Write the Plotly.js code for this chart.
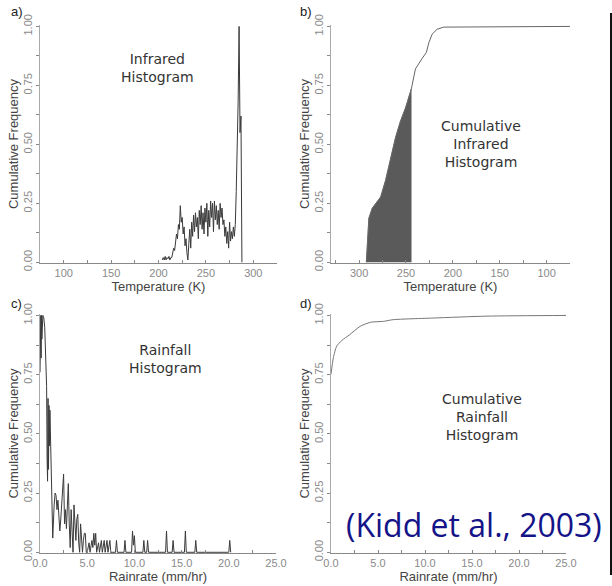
<!DOCTYPE html>
<html>
<head>
<meta charset="utf-8">
<script src="https://cdn.plot.ly/plotly-3.0.1.min.js"></script>
<style>html,body{margin:0;padding:0;background:#fff;}#chart{width:612px;height:586px;}</style>
</head>
<body>
<div id="chart"></div>
<script>
// ---- Panel a: infrared histogram ----
const irTemp = [204,205,206,207,208,209,210,211,212,213,214,215,216,217,218,219,220,221,222,223,224,225,226,227,228,229,230,231,232,233,234,235,236,237,238,239,240,241,242,243,244,245,246,247,248,249,250,251,252,253,254,255,256,257,258,259,260,261,262,263,264,265,266,267,268,269,270,271,272,273,274,275,276,277,278,279,280,281,282,283,284,285,286,287,288];
const irFreq = [0.01,0.02,0.01,0.025,0.01,0.02,0.015,0.025,0.01,0.02,0.02,0.04,0.06,0.05,0.09,0.12,0.10,0.16,0.14,0.24,0.17,0.19,0.12,0.15,0.07,0.10,0.04,0.01,0.08,0.14,0.06,0.17,0.11,0.20,0.13,0.21,0.15,0.19,0.10,0.22,0.16,0.24,0.14,0.21,0.12,0.23,0.17,0.25,0.11,0.22,0.15,0.26,0.19,0.25,0.13,0.26,0.18,0.24,0.16,0.22,0.14,0.25,0.19,0.23,0.16,0.18,0.11,0.15,0.08,0.13,0.06,0.17,0.09,0.13,0.10,0.15,0.11,0.16,0.30,0.45,0.68,1.00,0.55,0.62,0.00];

// ---- Panel b: cumulative infrared histogram ----
const cumTemp = [292.3,289.6,286,277,271.8,266.5,261.2,255.9,250.5,244.1,239.9,232.8,228.2,225.7,222.1,216.8,209.8,75];
const cumFreq = [0,0.187,0.229,0.277,0.347,0.445,0.528,0.598,0.654,0.738,0.82,0.864,0.89,0.93,0.967,0.988,0.997,1.0];
const fillEdgeTemp = 244.1;

// ---- Panel c: rainfall histogram ----
const rainRate = [0.00,0.03,0.06,0.09,0.12,0.15,0.2,0.3,0.4,0.5,0.6,0.7,0.75,0.8,0.85,0.9,0.95,1.0,1.05,1.15,1.25,1.35,1.5,1.6,1.7,1.8,1.9,2.0,2.1,2.2,2.3,2.4,2.5,2.6,2.7,2.8,2.9,3.0,3.1,3.2,3.3,3.4,3.5,3.6,3.7,3.8,3.9,4.0,4.1,4.2,4.3,4.4,4.5,4.6,4.7,4.8,4.9,5.0,5.2,5.3,5.5,5.6,5.7,5.8,5.9,6.0,6.2,6.3,6.5,6.6,6.8,6.9,7.1,7.2,7.4,7.5,8.0,8.1,8.2,8.9,9.0,9.1,9.7,9.8,9.9,10.0,10.1,10.9,11.0,11.1,11.3,11.4,11.5,13.3,13.4,13.5,14.0,14.1,14.2,15.3,15.4,15.5,16.4,16.5,16.6,20.0,20.1,20.2];
const rainFreq = [0.76,1.00,0.78,1.00,0.82,1.00,0.90,1.00,0.99,0.95,0.82,0.70,0.40,0.30,0.65,0.35,0.62,0.45,0.60,0.40,0.25,0.06,0.20,0.25,0.24,0.18,0.22,0.15,0.09,0.14,0.20,0.26,0.33,0.12,0.18,0.10,0.24,0.29,0.12,0.02,0.18,0.10,0.00,0.20,0.12,0.05,0.14,0.16,0.04,0.00,0.12,0.03,0.00,0.05,0.08,0.08,0.00,0.00,0.04,0.00,0.05,0.02,0.08,0.03,0.08,0.00,0.04,0.00,0.05,0.00,0.05,0.00,0.05,0.00,0.05,0.00,0.00,0.05,0.00,0.00,0.05,0.00,0.00,0.09,0.03,0.07,0.00,0.00,0.05,0.00,0.00,0.05,0.00,0.00,0.09,0.00,0.00,0.05,0.00,0.00,0.09,0.00,0.00,0.05,0.00,0.00,0.05,0.00];

// ---- Panel d: cumulative rainfall histogram ----
const cumRain = [0,0.25,0.6,1.14,2.0,3.1,4.2,5.6,6.6,10.9,16.6,25.4];
const cumRainFreq = [0.752,0.821,0.870,0.894,0.919,0.954,0.971,0.975,0.982,0.989,0.997,1.0];

const yTickVals = [0,0.25,0.5,0.75,1.0];
const tempTickVals = [100,150,200,250,300];
const rainTickVals = [0,5,10,15,20,25];

const FONT = 'Liberation Sans, Arial, sans-serif';
const tickFont = {family: FONT, size: 11, color: '#8a8a8a'};
const titleFont = {family: FONT, size: 13, color: '#444'};

const fillT = [], fillF = [];
cumTemp.forEach((t, i) => { if (t >= fillEdgeTemp) { fillT.push(t); fillF.push(cumFreq[i]); } });

const traces = [
  {x: irTemp, y: irFreq, xaxis: 'x', yaxis: 'y', type: 'scatter', mode: 'lines', line: {color: '#3a3a3a', width: 1}},
  {x: fillT, y: fillF, xaxis: 'x2', yaxis: 'y2', type: 'scatter', mode: 'lines', fill: 'tozeroy', fillcolor: '#5a5a5a', line: {color: '#5a5a5a', width: 0.5}},
  {x: cumTemp, y: cumFreq, xaxis: 'x2', yaxis: 'y2', type: 'scatter', mode: 'lines', line: {color: '#666', width: 1}},
  {x: rainRate, y: rainFreq, xaxis: 'x3', yaxis: 'y3', type: 'scatter', mode: 'lines', line: {color: '#3a3a3a', width: 1}},
  {x: cumRain, y: cumRainFreq, xaxis: 'x4', yaxis: 'y4', type: 'scatter', mode: 'lines', line: {color: '#777', width: 1, shape: 'spline', smoothing: 0.6}}
];

function xax(domain, range, tickvals, fmt, minorDt, anchor, title) {
  return {
    domain: domain, range: range, anchor: anchor,
    tickmode: 'array', tickvals: tickvals, tickformat: fmt,
    ticks: 'inside', ticklen: 3, tickcolor: '#888', tickwidth: 1,
    minor: {dtick: minorDt, tick0: 0, ticks: 'inside', ticklen: 3, tickcolor: '#888', showgrid: false},
    showline: true, linecolor: '#888', linewidth: 1,
    showgrid: false, zeroline: false, tickfont: tickFont,
    title: {text: title, font: titleFont, standoff: 0}, automargin: false
  };
}
function yax(domain, anchor) {
  return {
    domain: domain, range: [-0.003, 1.006], anchor: anchor,
    tickmode: 'array', tickvals: yTickVals, tickformat: '.2f', tickangle: -90,
    ticks: 'outside', ticklen: 3, tickcolor: '#888', tickwidth: 1,
    minor: {dtick: 0.125, tick0: 0, ticks: 'outside', ticklen: 3, tickcolor: '#888', showgrid: false},
    showline: true, linecolor: '#aaa', linewidth: 1,
    showgrid: false, zeroline: false, tickfont: tickFont,
    title: {text: 'Cumulative Frequency', font: titleFont, standoff: 0}, automargin: false
  };
}

const W = 612, H = 586;
const px = v => v / W, py = v => 1 - v / H;

const annFont = {family: 'DejaVu Sans, sans-serif', size: 14, color: '#333'};
const letterFont = {family: FONT, size: 13, color: '#222'};
function ann(x, y, text, font) {
  return {xref: 'paper', yref: 'paper', x: px(x), y: py(y), xanchor: 'center', yanchor: 'middle', text: text, showarrow: false, font: font};
}
const layout = {
  width: W, height: H,
  margin: {l: 0, r: 0, t: 0, b: 0},
  paper_bgcolor: '#fff', plot_bgcolor: '#fff',
  showlegend: false,
  xaxis: xax([px(40), px(277)], [75, 325], tempTickVals, 'd', 25, 'y', 'Temperature (K)'),
  yaxis: yax([py(263), py(25)], 'x'),
  xaxis2: xax([px(331), px(570)], [330, 75], tempTickVals, 'd', 25, 'y2', 'Temperature (K)'),
  yaxis2: yax([py(263), py(25)], 'x2'),
  xaxis3: xax([px(40), px(276)], [0, 25], rainTickVals, '.1f', 2.5, 'y3', 'Rainrate (mm/hr)'),
  yaxis3: yax([py(553), py(314)], 'x3'),
  xaxis4: xax([px(331), px(566)], [0, 25], rainTickVals, '.1f', 2.5, 'y4', 'Rainrate (mm/hr)'),
  yaxis4: yax([py(553), py(314)], 'x4'),
  annotations: [
    ann(17, 12, 'a)', letterFont),
    ann(306, 12, 'b)', letterFont),
    ann(16, 304, 'c)', letterFont),
    ann(306, 304, 'd)', letterFont),
    ann(157, 68, 'Infrared<br>Histogram', annFont),
    ann(481, 144, 'Cumulative<br>Infrared<br>Histogram', annFont),
    ann(165, 359, 'Rainfall<br>Histogram', annFont),
    ann(482, 417, 'Cumulative<br>Rainfall<br>Histogram', annFont),
    ann(474, 524, '(Kidd et al., 2003)', {family: 'Open Sans, sans-serif', size: 32, color: '#141488'})
  ],
  shapes: [
    {type: 'line', xref: 'paper', yref: 'paper', x0: px(611), x1: px(611), y0: py(13), y1: py(575), line: {color: '#111', width: 2}}
  ]
};

Plotly.newPlot('chart', traces, layout, {staticPlot: true, displayModeBar: false});
</script>
</body>
</html>
